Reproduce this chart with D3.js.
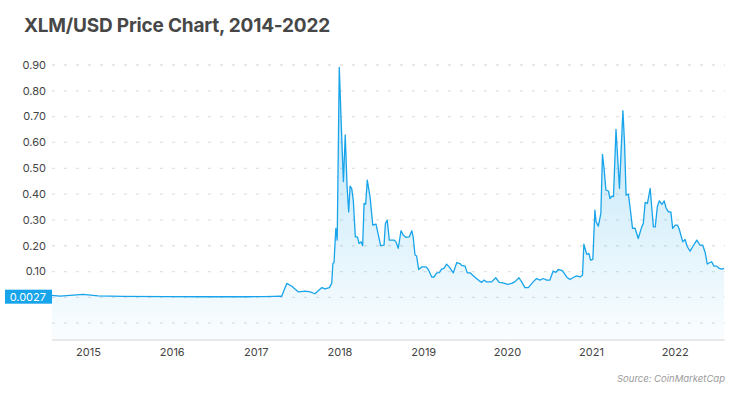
<!DOCTYPE html>
<html><head><meta charset="utf-8">
<script src="https://cdn.jsdelivr.net/npm/d3@7/dist/d3.min.js"></script>
<style>
body{margin:0;background:#fff;}
svg{display:block;font-family:"Inter","Lato",sans-serif;}
</style></head>
<body>
<svg id="chart" width="750" height="398"></svg>
<script>
const dates = ["2014-07-26","2014-08-30","2014-10-12","2014-12-09","2015-02-12","2015-06-01","2015-12-01","2016-06-01","2016-12-01","2017-02-01","2017-03-17","2017-04-15","2017-04-22",
"2017-05-14","2017-06-05","2017-07-04","2017-08-02","2017-08-24","2017-09-14","2017-10-14","2017-10-28","2017-11-16","2017-11-26","2017-12-01","2017-12-06","2017-12-14","2017-12-20","2017-12-29",
"2018-01-07","2018-01-16","2018-01-24","2018-02-01","2018-02-08","2018-02-14","2018-02-21","2018-02-28","2018-03-09","2018-03-18","2018-03-25","2018-04-03","2018-04-10","2018-04-16","2018-04-23","2018-04-30","2018-05-12","2018-05-24","2018-06-07","2018-06-19","2018-06-27","2018-07-12","2018-07-18","2018-07-26","2018-08-04","2018-08-25","2018-09-02","2018-09-12","2018-09-24","2018-10-04","2018-10-16","2018-10-30","2018-11-10","2018-11-16","2018-11-24","2018-12-01","2018-12-10","2018-12-23",
"2019-01-11","2019-01-21","2019-02-05","2019-02-15","2019-02-27","2019-03-10","2019-03-20","2019-03-30","2019-04-11","2019-04-22","2019-05-10","2019-05-25","2019-06-08","2019-06-15","2019-06-30","2019-07-10","2019-07-22","2019-08-12","2019-08-31","2019-09-11","2019-09-20","2019-10-02","2019-10-24","2019-11-11","2019-11-26","2019-12-13",
"2020-01-01","2020-01-19","2020-02-02","2020-02-20","2020-03-03","2020-03-17","2020-04-01","2020-04-22","2020-05-07","2020-05-21","2020-06-05","2020-06-20","2020-07-04","2020-07-18","2020-07-30","2020-08-09","2020-08-24","2020-08-31","2020-09-15","2020-09-29","2020-10-14","2020-10-28","2020-11-12","2020-11-23","2020-11-29","2020-12-11","2020-12-21","2020-12-28",
"2021-01-07","2021-01-16","2021-01-21","2021-01-31","2021-02-11","2021-02-18","2021-02-25","2021-03-05","2021-03-16","2021-03-23","2021-03-31","2021-04-07","2021-04-18","2021-05-03","2021-05-18","2021-05-25","2021-06-01","2021-06-11","2021-06-18","2021-06-29","2021-07-10","2021-07-24","2021-08-08","2021-08-15","2021-08-23","2021-09-02","2021-09-14","2021-09-21","2021-09-28","2021-10-06","2021-10-15","2021-10-24","2021-11-04","2021-11-14","2021-11-22","2021-12-02","2021-12-13","2021-12-21",
"2022-01-01","2022-01-11","2022-01-19","2022-02-03","2022-02-13","2022-02-23","2022-03-07","2022-03-18","2022-04-05","2022-04-19","2022-05-01","2022-05-11","2022-05-21","2022-05-30","2022-06-09","2022-06-19","2022-07-01","2022-07-12","2022-07-23","2022-08-02"];
const prices = [0.008,0.005,0.008,0.012,0.006,0.004,0.003,0.0025,0.0025,0.003,0.004,0.005,0.004,
0.054,0.043,0.021,0.024,0.021,0.014,0.038,0.033,0.038,0.054,0.131,0.134,0.267,0.222,0.891,
0.66,0.448,0.629,0.428,0.331,0.431,0.422,0.377,0.234,0.234,0.209,0.215,0.2,0.364,0.361,0.454,0.39,0.28,0.284,0.234,0.2,0.202,0.286,0.299,0.222,0.222,0.215,0.19,0.258,0.241,0.232,0.234,0.258,0.234,0.164,0.16,0.108,0.118,
0.118,0.108,0.079,0.079,0.095,0.096,0.109,0.112,0.129,0.118,0.095,0.135,0.131,0.124,0.121,0.095,0.095,0.078,0.064,0.058,0.067,0.06,0.06,0.076,0.058,0.056,
0.05,0.054,0.06,0.076,0.06,0.038,0.038,0.06,0.073,0.067,0.073,0.067,0.067,0.102,0.097,0.108,0.105,0.099,0.079,0.069,0.077,0.083,0.079,0.086,0.206,0.167,0.17,0.144,
0.147,0.338,0.293,0.276,0.325,0.554,0.5,0.415,0.412,0.383,0.392,0.39,0.651,0.422,0.723,0.603,0.396,0.4,0.351,0.267,0.268,0.228,0.273,0.286,0.368,0.364,0.422,0.345,0.273,0.273,0.351,0.374,0.36,0.374,0.347,0.331,0.331,0.267,
0.28,0.28,0.263,0.215,0.224,0.196,0.179,0.196,0.222,0.202,0.202,0.176,0.129,0.134,0.138,0.121,0.121,0.112,0.109,0.112];
const yTicks = [-0.1,0,0.1,0.2,0.3,0.4,0.5,0.6,0.7,0.8,0.9];
const yearTicks = [2015,2016,2017,2018,2019,2020,2021,2022];
const currentLabel = "0.0027";
const currentValue = 0.0027;
const title = "XLM/USD Price Chart, 2014-2022";
const source = "Source: CoinMarketCap";

const parse = d3.timeParse("%Y-%m-%d");
const data = dates.map((d,i)=>({date:parse(d), v:prices[i]}));

const svg = d3.select("#chart");
const left = 52, right = 725, bottom = 340;
const x = d3.scaleTime().domain([parse("2014-07-26"), parse("2022-08-06")]).range([left, right]);
const y = d3.scaleLinear().domain([-0.1, 0.9]).range([323.2, 65]);

const blue = "#17a4ea";
const defs = svg.append("defs");
const grad = defs.append("linearGradient").attr("id","fillGrad")
  .attr("gradientUnits","userSpaceOnUse").attr("x1",0).attr("x2",0).attr("y1",y(0.9)).attr("y2",bottom);
grad.append("stop").attr("offset","0%").attr("stop-color",blue).attr("stop-opacity",0.32);
grad.append("stop").attr("offset","100%").attr("stop-color",blue).attr("stop-opacity",0.02);

// title
svg.append("text").attr("x",24).attr("y",32).text(title)
  .attr("font-size",19).attr("font-weight",700).attr("fill","#474747").attr("letter-spacing","-0.2");

// gridlines
svg.append("g").selectAll("line").data(yTicks).join("line")
  .attr("x1",left).attr("x2",right).attr("y1",d=>y(d)).attr("y2",d=>y(d))
  .attr("stroke","#e2e2e2").attr("stroke-width",1.3).attr("stroke-dasharray","3,9");

// y labels
svg.append("g").selectAll("text").data(yTicks.filter(d=>d>0)).join("text")
  .attr("x",46).attr("y",d=>y(d)).attr("dy","0.35em").attr("text-anchor","end")
  .attr("font-size",11).attr("fill","#444").text(d=>d.toFixed(2));

// area + line
const area = d3.area().x(d=>x(d.date)).y0(bottom).y1(d=>y(d.v));
svg.append("path").datum(data).attr("d",area).attr("fill","url(#fillGrad)");
const line = d3.line().x(d=>x(d.date)).y(d=>y(d.v));
svg.append("path").datum(data).attr("d",line).attr("fill","none").attr("stroke",blue).attr("stroke-width",1.3).attr("stroke-linejoin","round");

// x axis
svg.append("line").attr("x1",left).attr("x2",right).attr("y1",bottom).attr("y2",bottom).attr("stroke","#d4d4d4").attr("stroke-width",1);
svg.append("g").selectAll("text").data(yearTicks).join("text")
  .attr("x",d=>x(new Date(d,0,1))).attr("y",356).attr("text-anchor","middle")
  .attr("font-size",11).attr("fill","#444").text(d=>d);

// current value label
const cy = y(currentValue);
svg.append("rect").attr("x",5).attr("y",cy-7).attr("width",left-5).attr("height",14).attr("fill",blue);
svg.append("text").attr("x",46).attr("y",cy).attr("dy","0.35em").attr("text-anchor","end")
  .attr("font-size",11).attr("fill","#fff").text(currentLabel);

// source
svg.append("text").attr("x",right).attr("y",382).attr("text-anchor","end")
  .attr("font-size",9.5).attr("font-style","italic").attr("fill","#9a9a9a").text(source);
</script>
</body></html>
